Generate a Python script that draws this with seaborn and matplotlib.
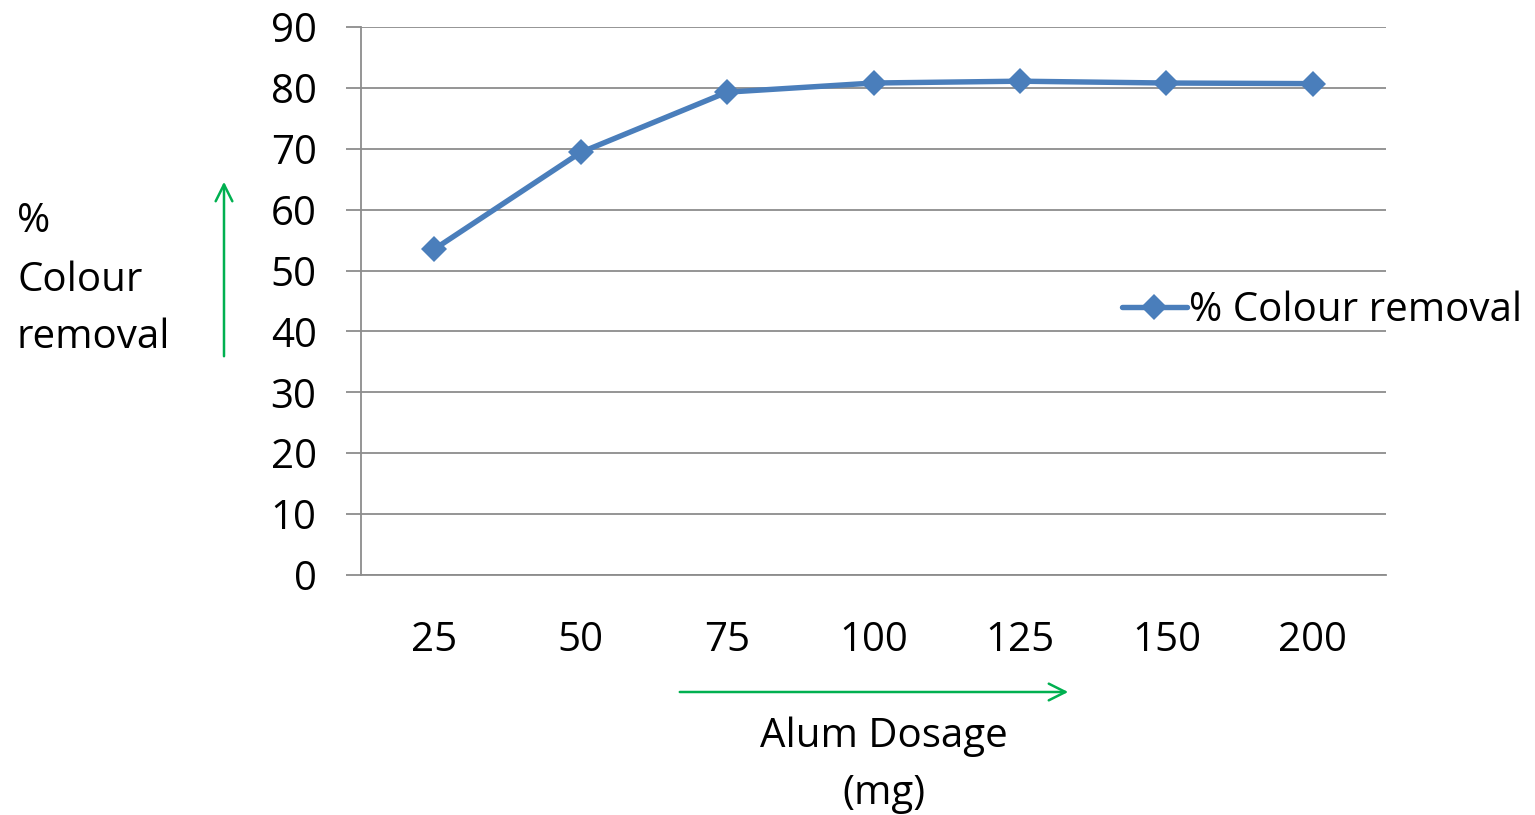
import matplotlib
matplotlib.use("Agg")
import matplotlib.pyplot as plt
from matplotlib.patches import FancyArrowPatch
import seaborn as sns
import pandas as pd

dosage = ["25", "50", "75", "100", "125", "150", "200"]
removal = [53.5, 69.4, 79.3, 80.8, 81.1, 80.8, 80.7]
series_name = "% Colour removal"
y_ticks = [0, 10, 20, 30, 40, 50, 60, 70, 80, 90]

sns.set_style("white")
plt.rcParams["font.family"] = ["Open Sans", "DejaVu Sans"]
plt.rcParams["text.color"] = "black"
plt.rcParams["xtick.color"] = "black"
plt.rcParams["ytick.color"] = "black"

df = pd.DataFrame({"pos": range(len(dosage)), "removal": removal})

fig = plt.figure(figsize=(15.35, 8.15), dpi=100)
ax = fig.add_axes([361 / 1535, 1 - 575 / 815, (1386 - 361) / 1535, (575 - 27) / 815])

line_color = "#4A7EBB"
grid_color = "#8C8C8C"
fs = 29

sns.lineplot(data=df, x="pos", y="removal", ax=ax, color=line_color, linewidth=3.9,
             marker="D", markersize=13, markeredgewidth=0, label=series_name, zorder=3)

ax.set_xlim(-0.5, len(dosage) - 0.5)
ax.set_ylim(0, 90)
ax.set_yticks(y_ticks)
ax.set_yticklabels([str(v) for v in y_ticks], fontsize=fs)
ax.yaxis.grid(True, color=grid_color, linewidth=1.3)
ax.set_xticks(range(len(dosage)))
ax.set_xticklabels(dosage, fontsize=fs)
ax.set_xticks([i - 0.5 for i in range(len(dosage) + 1)], minor=True)
ax.tick_params(axis="x", which="major", length=0, pad=33)
ax.tick_params(axis="x", which="minor", length=11, width=1.3, color=grid_color, direction="out")
ax.tick_params(axis="y", length=11, width=1.3, color=grid_color, labelcolor="black",
               direction="out", pad=21, left=True)
ax.set_xlabel("")
ax.set_ylabel("")

for side in ["top", "right"]:
    ax.spines[side].set_visible(False)
for side in ["left", "bottom"]:
    ax.spines[side].set_color(grid_color)
    ax.spines[side].set_linewidth(1.3)

leg = ax.legend(loc="center left", bbox_to_anchor=(1106 / 1535, 1 - 311 / 815),
                bbox_transform=fig.transFigure, frameon=False, fontsize=fs,
                handlelength=1.6, handletextpad=0.05, borderaxespad=0)

fig.text(17 / 1535, 1 - 222 / 815, "%", fontsize=fs, va="center", ha="left")
fig.text(17 / 1535, 1 - 281 / 815, "Colour", fontsize=fs, va="center", ha="left")
fig.text(17 / 1535, 1 - 338 / 815, "removal", fontsize=fs, va="center", ha="left")
fig.text(884 / 1535, 1 - 737 / 815, "Alum Dosage", fontsize=fs, va="center", ha="center")
fig.text(884 / 1535, 1 - 794 / 815, "(mg)", fontsize=fs, va="center", ha="center")

green = "#00B050"
fig.patches.append(FancyArrowPatch((224 / 1535, 1 - 359 / 815), (224 / 1535, 1 - 179 / 815),
                                   transform=fig.transFigure, arrowstyle="->,head_length=12,head_width=6",
                                   color=green, linewidth=1.8, mutation_scale=1))
fig.patches.append(FancyArrowPatch((677 / 1535, 1 - 692 / 815), (1071 / 1535, 1 - 692 / 815),
                                   transform=fig.transFigure, arrowstyle="->,head_length=12,head_width=6",
                                   color=green, linewidth=1.8, mutation_scale=1))

fig.savefig("out.png", dpi=100)
